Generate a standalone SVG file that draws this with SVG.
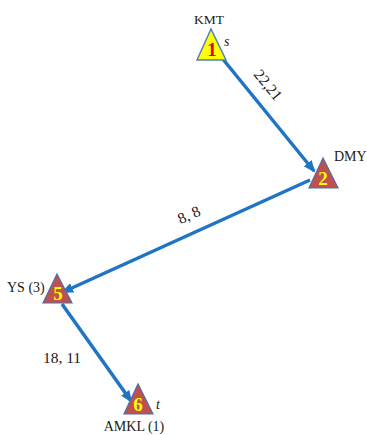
<svg xmlns="http://www.w3.org/2000/svg" width="367" height="435" viewBox="0 0 367 435">
<style>
.edge{stroke:#1F74C4;stroke-width:3.5;fill:none;marker-end:url(#arr)}
.tri{fill:#C0504D;stroke:#4F6FA0;stroke-width:1.2}
.tri1{fill:#FFFF00;stroke:#4F81BD;stroke-width:1.5}
.num{font-family:"Liberation Serif",serif;font-weight:bold;font-size:19px;text-anchor:middle}
.lbl{font-family:"Liberation Serif",serif;font-size:14px;fill:#1a1a1a}
.elbl{font-family:"Liberation Serif",serif;font-size:15.5px;fill:#1a1a1a;text-anchor:middle}
.it{font-family:"Liberation Serif",serif;font-style:italic;font-size:14px;fill:#1a1a1a}
</style>
<defs>
<marker id="arr" markerWidth="12" markerHeight="10" refX="10" refY="5" orient="auto" markerUnits="userSpaceOnUse">
<path d="M0,0 L12,5 L0,10 Z" fill="#1F74C4"/>
</marker>
</defs>
<g id="edges">
<line class="edge" x1="222" y1="58" x2="314" y2="171"/>
<line class="edge" x1="310" y1="180" x2="63" y2="292"/>
<line class="edge" x1="62" y1="304" x2="131" y2="401"/>
<text class="elbl" transform="translate(268,85) rotate(50.6)" dy="5">22,21</text>
<text class="elbl" transform="translate(189,215) rotate(-24.3)" dy="5">8, 8</text>
<text class="elbl" x="62" y="363">18, 11</text>
</g>
<g id="n1">
<polygon class="tri1" points="211,29 197,60 226,60"/>
<text class="num" x="212" y="56" fill="#E00000">1</text>
<text class="lbl" x="209" y="24" text-anchor="middle" style="font-size:13.5px">KMT</text>
<text class="it" x="224" y="46">s</text>
</g>
<g id="n2">
<polygon class="tri" points="323,158 309,188 338,188"/>
<text class="num" x="323" y="185" fill="#FFFF00">2</text>
<text class="lbl" x="334" y="161">DMY</text>
</g>
<g id="n5">
<polygon class="tri" points="57,274 43,303 72,303"/>
<text class="num" x="58" y="300" fill="#FFFF00">5</text>
<text class="lbl" x="7" y="292">YS (3)</text>
</g>
<g id="n6">
<polygon class="tri" points="138,384 124,414 153,414"/>
<text class="num" x="138" y="411" fill="#FFFF00">6</text>
<text class="it" x="156" y="409">t</text>
<text class="lbl" x="134" y="431" text-anchor="middle">AMKL (1)</text>
</g>
</svg>
